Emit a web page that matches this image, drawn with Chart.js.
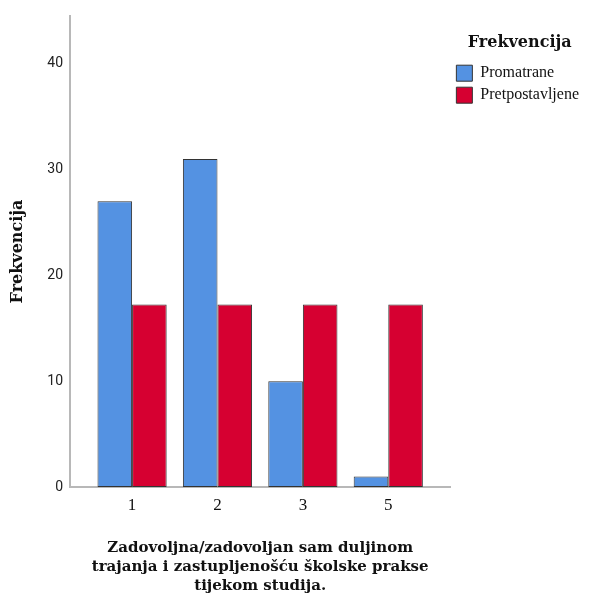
<!DOCTYPE html>
<html>
<head>
<meta charset="utf-8">
<script src="https://cdn.jsdelivr.net/npm/chart.js@4"></script>
<style>
  html, body { margin: 0; padding: 0; background: #fff; }
  #wrap { position: relative; width: 593px; height: 597px; }
</style>
</head>
<body>
<div id="wrap"><canvas id="chart"></canvas></div>
<script>
// Chart values
const categories = ['1', '2', '3', '5'];
const observed = [27, 31, 10, 1];       // Promatrane
const expected = [17.25, 17.25, 17.25, 17.25]; // Pretpostavljene
const yTicks = [0, 10, 20, 30, 40];

const serif = "'DejaVu Serif', serif";
const times = "'Liberation Serif', 'Times New Roman', serif";

// categories sit at positions 1..n on a linear axis so the axis can keep SPSS-style side padding
const toPoints = vals => vals.map((v, i) => ({ x: i + 1, y: v }));

new Chart(document.getElementById('chart'), {
  type: 'bar',
  data: {
    datasets: [
      {
        label: 'Promatrane',
        data: toPoints(observed),
        backgroundColor: '#5492e2',
        borderColor: '#333333',
        borderWidth: 1,
        borderSkipped: false,
        categoryPercentage: 0.81,
        barPercentage: 1.0
      },
      {
        label: 'Pretpostavljene',
        data: toPoints(expected),
        backgroundColor: '#d60031',
        borderColor: '#333333',
        borderWidth: 1,
        borderSkipped: false,
        categoryPercentage: 0.81,
        barPercentage: 1.0
      }
    ]
  },
  options: {
    responsive: true,
    maintainAspectRatio: false,
    animation: false,
    layout: { padding: { top: 16, right: 4, bottom: 0, left: 0 } },
    plugins: {
      tooltip: { enabled: false },
      legend: {
        position: 'right',
        align: 'start',
        title: {
          display: true,
          text: 'Frekvencija',
          color: '#111',
          font: { family: serif, size: 16, weight: 'bold' },
          padding: { top: 19, bottom: 5 }
        },
        labels: {
          color: '#111',
          font: { family: times, size: 16 },
          boxWidth: 16,
          boxHeight: 16,
          padding: 6
        }
      }
    },
    scales: {
      x: {
        type: 'linear',
        offset: false,
        min: 0.273,
        max: 4.727,
        grid: { display: false, drawTicks: false },
        border: { color: '#b8b8b8', width: 2 },
        afterBuildTicks: scale => {
          scale.ticks = categories.map((c, i) => ({ value: i + 1 }));
        },
        afterFit: scale => { scale.height = 110; },
        ticks: {
          padding: 8,
          color: '#111',
          font: { family: times, size: 17 },
          callback: v => categories[v - 1]
        },
        title: {
          display: true,
          text: ['Zadovoljna/zadovoljan sam duljinom',
                 'trajanja i zastupljenošću školske prakse',
                 'tijekom studija.'],
          color: '#111',
          font: { family: serif, size: 15, weight: 'bold', lineHeight: 1.24 },
          padding: { top: 4, bottom: 2 }
        }
      },
      y: {
        min: 0,
        max: 44.5,
        grid: { display: false, drawTicks: false },
        border: { color: '#b8b8b8', width: 2 },
        afterBuildTicks: scale => {
          scale.ticks = yTicks.map(v => ({ value: v }));
        },
        afterFit: scale => { scale.width = 70; },
        ticks: {
          padding: 7,
          color: '#222',
          font: { family: "Roboto, sans-serif", size: 14 }
        },
        title: {
          display: true,
          text: 'Frekvencija',
          color: '#111',
          font: { family: serif, size: 16, weight: 'bold' },
          padding: { top: 8, bottom: 4 }
        }
      }
    }
  }
});
</script>
</body>
</html>
